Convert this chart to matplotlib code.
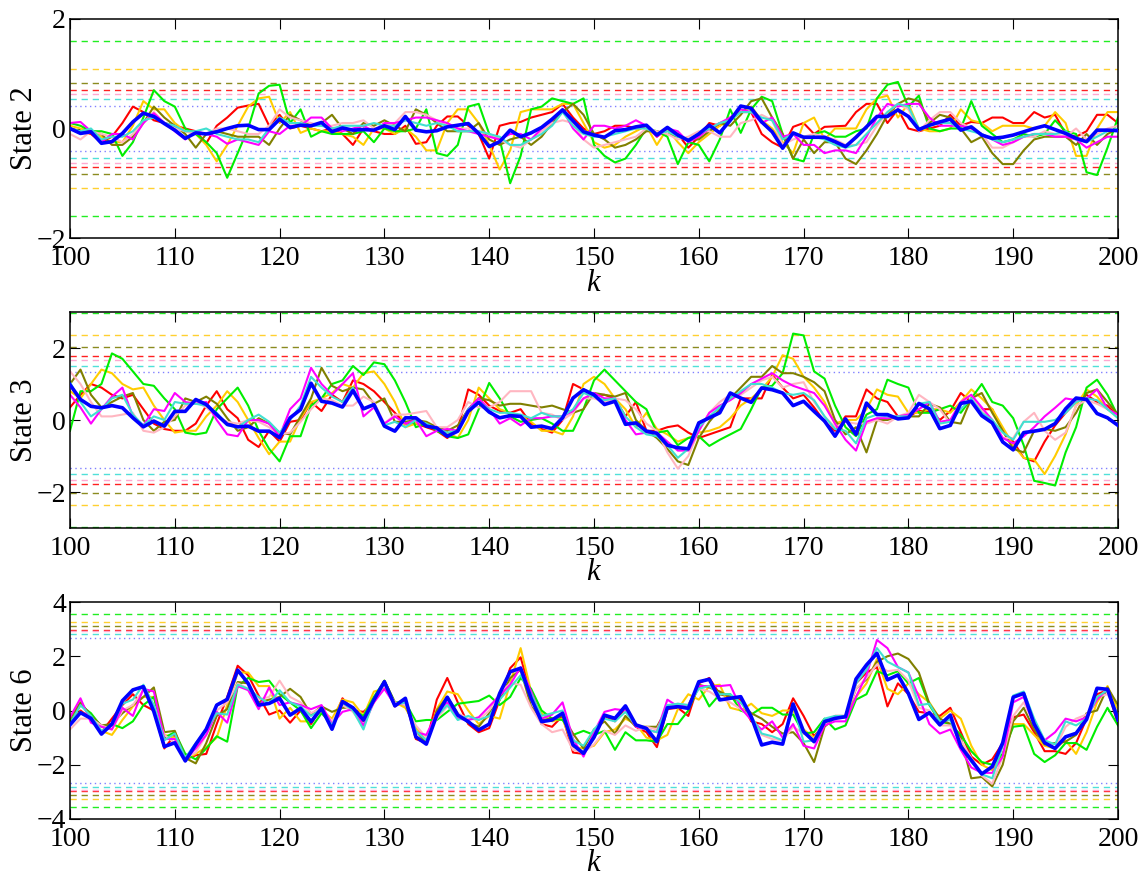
import numpy as np
import matplotlib
matplotlib.use("Agg")
import matplotlib.pyplot as plt

k = list(range(100, 201))

# ---------------- State 2 ----------------
s2_red = [0.0, -0.05, -0.1, -0.25, -0.15, 0.1, 0.4, 0.3, 0.15, 0.1,
          0.05, 0.0, -0.05, -0.27, 0.05, 0.2, 0.38, 0.42, 0.45, 0.05,
          0.25, 0.0, 0.05, 0.0, -0.05, 0.0, -0.1, -0.3, 0.0, -0.05,
          -0.1, -0.1, 0.05, -0.28, -0.25, 0.05, 0.22, 0.22, 0.05, -0.1,
          -0.55, 0.05, 0.1, 0.12, 0.2, 0.25, 0.3, 0.45, 0.2, 0.0,
          -0.1, -0.05, 0.05, 0.05, 0.0, 0.05, -0.15, 0.0, -0.1, -0.35,
          -0.15, 0.1, 0.05, 0.2, 0.3, 0.3, -0.1, -0.25, -0.35, 0.03,
          0.1, -0.1, 0.03, 0.04, 0.05, 0.3, 0.45, 0.45, 0.1, 0.35,
          0.0, -0.05, 0.0, 0.05, 0.25, 0.05, 0.12, 0.1, 0.2, 0.2,
          0.1, 0.1, 0.3, 0.2, 0.25, -0.1, -0.15, -0.05, 0.25, 0.25,
          0.1]
s2_yellow = [0.05, 0.0, -0.05, -0.15, -0.25, -0.25, 0.05, 0.5, 0.35, 0.35,
             0.1, -0.05, -0.1, -0.3, -0.6, -0.3, 0.05, 0.4, 0.55, 0.58,
             0.1, 0.3, -0.08, 0.0, -0.05, -0.05, -0.1, -0.15, -0.3, 0.0,
             0.0, -0.1, 0.0, -0.15, -0.4, -0.4, 0.1, 0.35, 0.35, 0.1,
             -0.3, -0.75, -0.4, 0.3, 0.35, 0.35, 0.35, 0.45, 0.45, 0.1,
             -0.25, -0.35, -0.3, -0.15, -0.05, 0.05, -0.3, 0.0, -0.25, -0.45,
             -0.25, -0.1, 0.05, 0.15, 0.3, 0.4, 0.15, 0.0, -0.25, -0.45,
             0.1, 0.2, -0.2, 0.0, 0.0, 0.0, 0.35, 0.55, 0.6, 0.2,
             0.45, 0.0, -0.05, -0.05, 0.0, 0.35, 0.15, 0.1, -0.05, 0.05,
             0.05, 0.05, 0.0, 0.05, 0.3, 0.1, -0.5, -0.5, 0.0, 0.3,
             0.3]
s2_green = [0.1, 0.05, -0.05, -0.05, -0.1, -0.5, -0.25, 0.2, 0.7, 0.5,
            0.4, 0.0, -0.1, -0.25, -0.45, -0.9, -0.45, 0.0, 0.64, 0.78,
            0.8, 0.1, 0.35, -0.15, -0.05, -0.1, -0.1, -0.1, -0.05, -0.25,
            0.0, -0.05, -0.05, 0.0, 0.35, -0.45, -0.5, -0.3, 0.4, 0.45,
            -0.1, -0.2, -1.0, -0.5, 0.35, 0.4, 0.55, 0.5, 0.45, 0.55,
            -0.3, -0.5, -0.62, -0.55, -0.3, 0.0, -0.05, -0.15, -0.65, -0.25,
            -0.3, -0.6, -0.2, 0.35, -0.08, 0.35, 0.58, 0.5, -0.1, -0.55,
            -0.6, -0.1, -0.05, -0.15, -0.15, -0.05, 0.0, 0.55, 0.8, 0.85,
            0.4, 0.6, 0.0, -0.05, 0.0, 0.0, 0.5, 0.05, -0.1, -0.25,
            -0.2, -0.1, -0.15, -0.1, 0.15, -0.05, -0.1, -0.8, -0.85, -0.35,
            0.2]
s2_olive = [0.0, -0.05, -0.05, -0.1, -0.3, -0.3, -0.15, 0.1, 0.4, 0.2,
            0.05, -0.1, -0.35, -0.1, -0.05, -0.1, -0.15, -0.15, -0.15, -0.3,
            0.0, 0.25, 0.15, 0.05, 0.1, 0.25, 0.0, -0.1, 0.1, 0.05,
            0.15, 0.05, -0.05, 0.35, 0.25, 0.1, -0.05, -0.05, -0.05, 0.1,
            -0.2, -0.3, -0.2, -0.15, -0.3, -0.15, 0.1, 0.3, 0.45, 0.25,
            -0.1, -0.2, -0.35, -0.3, -0.2, -0.05, -0.05, -0.1, -0.15, -0.2,
            -0.2, -0.05, 0.1, 0.05, 0.25, 0.5, 0.55, 0.2, -0.1, -0.55,
            -0.2, -0.45, -0.25, -0.25, -0.55, -0.65, -0.4, -0.1, 0.25, 0.45,
            0.55, 0.5, 0.1, 0.25, 0.2, 0.0, -0.25, -0.15, -0.45, -0.65,
            -0.65, -0.4, -0.2, -0.15, -0.15, -0.15, -0.3, -0.1, -0.3, -0.1,
            0.0]
s2_pink = [-0.1, -0.2, -0.05, -0.1, -0.15, -0.25, -0.1, 0.1, 0.3, 0.1,
           0.0, -0.05, -0.1, -0.1, 0.0, 0.0, -0.05, -0.1, -0.1, 0.05,
           0.35, 0.2, 0.15, 0.1, 0.05, 0.05, 0.1, 0.1, 0.15, 0.0,
           0.05, 0.1, 0.3, 0.3, 0.25, 0.15, 0.05, 0.0, 0.0, -0.05,
           -0.1, -0.2, -0.3, -0.35, -0.2, -0.05, 0.1, 0.15, 0.1, -0.2,
           -0.35, -0.3, -0.25, -0.2, -0.15, 0.0, -0.05, -0.1, -0.2, -0.15,
           -0.05, -0.05, -0.15, -0.15, 0.1, 0.15, 0.25, 0.15, -0.3, -0.2,
           -0.15, -0.1, -0.15, -0.2, -0.3, -0.3, -0.25, 0.05, 0.3, 0.45,
           0.35, -0.05, 0.15, 0.3, 0.3, 0.1, 0.0, -0.1, -0.35, -0.35,
           -0.25, -0.15, -0.15, -0.05, -0.1, -0.15, 0.0, -0.2, -0.1, 0.0,
           0.05]
s2_magenta = [0.1, 0.12, -0.05, -0.25, -0.1, -0.1, -0.2, 0.1, 0.28, 0.1,
              -0.05, -0.2, -0.05, -0.1, -0.15, -0.28, -0.2, -0.25, -0.3, -0.05,
              -0.1, 0.05, 0.05, 0.2, 0.2, 0.0, -0.05, 0.0, 0.05, -0.05,
              0.1, 0.1, 0.15, 0.2, 0.2, 0.15, 0.1, 0.0, -0.05, -0.1,
              -0.15, -0.2, -0.1, -0.1, -0.2, 0.0, 0.15, 0.35, 0.0, -0.2,
              0.05, 0.05, 0.0, 0.05, 0.15, 0.05, -0.15, 0.0, -0.05, -0.25,
              -0.15, 0.0, 0.1, 0.2, 0.35, 0.3, 0.1, 0.2, -0.15, -0.1,
              -0.3, -0.3, -0.45, -0.4, -0.4, -0.45, -0.15, 0.2, 0.45, 0.4,
              0.45, 0.45, 0.2, 0.05, 0.05, 0.05, 0.0, -0.1, -0.2, -0.3,
              -0.25, -0.15, -0.1, -0.1, -0.15, -0.15, -0.2, -0.35, -0.25, -0.15,
              -0.15]
s2_cyan = [0.0, -0.05, 0.0, -0.2, -0.15, -0.15, -0.05, 0.15, 0.2, 0.1,
           0.05, -0.05, -0.05, 0.0, -0.1, -0.15, -0.2, -0.2, -0.25, 0.0,
           0.2, 0.1, 0.1, 0.05, 0.05, 0.0, 0.05, 0.05, 0.05, 0.1,
           0.05, 0.05, 0.15, 0.1, 0.05, 0.1, 0.05, -0.05, -0.05, -0.05,
           -0.1, -0.15, -0.3, -0.3, -0.2, -0.1, 0.05, 0.3, 0.05, -0.1,
           -0.15, -0.15, -0.1, -0.05, 0.0, 0.0, -0.1, -0.05, -0.15, -0.2,
           -0.1, 0.0, 0.1, 0.15, 0.3, 0.3, 0.2, 0.15, -0.2, -0.1,
           -0.15, -0.15, -0.2, -0.3, -0.35, -0.3, -0.1, 0.1, 0.3, 0.45,
           0.4, 0.0, 0.05, 0.1, 0.1, 0.0, -0.05, -0.1, -0.2, -0.25,
           -0.2, -0.15, -0.1, -0.1, -0.1, -0.05, -0.2, -0.25, -0.15, -0.05,
           0.0]
s2_blue = [0.0, -0.09, -0.06, -0.27, -0.24, -0.09, 0.12, 0.28, 0.22, 0.09,
           -0.03, -0.18, -0.08, -0.10, -0.06, 0.0, 0.05, 0.06, -0.02, -0.02,
           0.17, 0.02, 0.06, 0.05, 0.11, -0.06, 0.01, -0.03, -0.02, -0.03,
           0.05, -0.02, 0.22, -0.03, -0.06, -0.04, 0.03, 0.06, 0.09, -0.09,
           -0.33, -0.24, -0.03, -0.15, -0.08, 0.02, 0.17, 0.34, 0.14, -0.06,
           -0.12, -0.16, -0.04, -0.02, 0.03, 0.06, -0.12, 0.02, -0.12, -0.22,
           -0.10, 0.06, -0.08, 0.15, 0.41, 0.37, 0.12, -0.06, -0.36, -0.08,
           -0.16, -0.16, -0.16, -0.24, -0.33, -0.16, 0.03, 0.22, 0.22, 0.34,
           0.22, -0.02, 0.06, 0.12, 0.17, -0.03, 0.03, -0.12, -0.18, -0.16,
           -0.12, -0.06, 0.0, 0.05, -0.02, -0.09, -0.18, -0.24, -0.03, -0.03,
           -0.04]
s2_bounds = [1.60, 1.08, 0.84, 0.70, 0.63, 0.53, 0.42]

# ---------------- State 3 ----------------
s3_red = [0.35, 0.7, 1.0, 0.9, 0.7, 0.6, 0.7, 0.3, -0.1, -0.25,
          -0.3, -0.3, -0.1, 0.4, 0.8, 0.3, 0.05, -0.55, -0.75, -0.3,
          -0.6, -0.05, 0.0, 0.5, 0.25, 0.7, 0.5, 1.1, 1.0, 0.8,
          0.5, 0.2, -0.1, -0.1, -0.2, -0.3, -0.5, -0.25, 0.85, 0.7,
          0.4, 0.25, 0.2, 0.3, -0.1, -0.25, -0.35, 0.0, 1.0, 0.85,
          0.7, 0.7, 0.6, 0.1, 0.5, -0.3, -0.3, -0.2, -0.15, -0.35,
          -0.5, -0.4, -0.3, -0.2, 0.6, 0.6, 0.6, 1.25, 0.9, 0.6,
          0.7, 0.35, -0.05, -0.3, 0.1, 0.1, 0.85, 0.6, 0.5, 0.1,
          0.1, 0.25, 0.25, 0.0, 0.25, 0.75, 0.5, 0.3, 0.3, -0.3,
          -0.6, -1.05, -1.15, -0.6, -0.15, 0.2, 0.5, 0.7, 0.5, 0.4,
          0.1]
s3_yellow = [0.8, 0.6, 1.0, 1.4, 1.3, 1.0, 0.85, 0.9, 0.4, 0.0,
             -0.35, -0.3, -0.3, 0.1, 0.4, 0.8, 0.5, 0.0, -0.5, -0.95,
             -0.6, -0.6, 0.05, 0.5, 0.6, 0.75, 1.0, 0.9, 1.3, 1.35,
             1.0, 0.5, -0.2, -0.1, -0.15, -0.25, -0.35, -0.5, 0.0, 0.9,
             0.6, 0.3, 0.2, 0.1, -0.05, -0.3, -0.3, -0.4, 0.1, 1.0,
             1.2, 1.0, 0.6, 0.3, -0.2, 0.2, -0.25, -0.4, -0.6, -0.5,
             -0.35, -0.3, -0.2, 0.05, 0.4, 0.6, 0.85, 1.2, 1.8, 1.7,
             1.2, 0.9, 0.5, -0.1, 0.0, 0.0, 0.3, 0.85, 0.7, 0.65,
             0.2, 0.2, 0.3, 0.3, 0.2, 0.5, 0.85, 0.6, 0.3, -0.2,
             -0.7, -1.05, -1.1, -1.5, -1.0, -0.4, 0.4, 0.85, 0.65, 0.3,
             0.1]
s3_green = [-0.3, 0.8, 0.8, 1.0, 1.85, 1.7, 1.35, 1.0, 0.95, 0.6,
            0.3, -0.35, -0.4, -0.35, 0.3, 0.6, 0.9, 0.4, -0.3, -0.8,
            -1.15, -0.45, -0.45, 0.4, 0.6, 1.0, 1.1, 1.5, 1.25, 1.6,
            1.55, 1.1, 0.5, -0.2, -0.1, -0.3, -0.45, -0.5, -0.4, 0.3,
            1.03, 0.6, 0.1, -0.05, 0.0, 0.05, -0.1, -0.3, -0.3, 0.3,
            1.1, 1.4, 1.1, 0.8, 0.5, 0.3, -0.35, -0.3, -0.7, -0.5,
            -0.45, -0.72, -0.55, -0.4, -0.25, 0.3, 0.9, 0.95, 1.3, 2.4,
            2.35, 1.35, 1.15, 0.4, -0.2, -0.45, 0.15, 0.3, 1.12, 1.0,
            0.9, 0.2, 0.2, 0.3, 0.4, 0.2, 0.6, 1.0, 0.5, 0.4,
            0.05, -0.7, -1.69, -1.75, -1.82, -0.9, -0.2, 0.9, 1.12, 0.7,
            0.1]
s3_olive = [1.0, 1.4, 0.7, 0.35, 0.5, 0.65, 0.75, 0.0, -0.3, -0.05,
            0.0, 0.6, 0.5, 0.65, 0.45, 0.05, -0.3, -0.2, 0.05, -0.1,
            -0.35, -0.4, 0.1, 0.6, 1.45, 0.95, 0.8, 0.9, 0.85, 0.45,
            0.6, -0.05, -0.05, 0.0, -0.05, -0.2, -0.3, -0.15, 0.3, 0.61,
            0.55, 0.4, 0.45, 0.45, 0.4, 0.35, 0.4, 0.3, 0.2, 0.3,
            0.75, 0.7, 0.65, 0.75, 0.0, -0.3, -0.5, -0.8, -1.15, -1.25,
            -0.5, -0.05, 0.3, 0.6, 0.9, 1.2, 1.2, 1.5, 1.3, 1.3,
            1.2, 1.05, 0.8, 0.0, -0.4, -0.2, -0.9, 0.0, 0.0, 0.1,
            0.1, 0.1, 0.45, 0.35, -0.05, -0.1, 0.6, 0.75, 0.2, -0.3,
            -0.8, -0.9, -0.3, -0.25, -0.3, -0.2, 0.2, 0.75, 0.85, 0.5,
            0.15]
s3_pink = [1.35, 1.0, 0.5, 0.1, 0.1, 0.15, 0.2, -0.3, -0.35, -0.2,
           0.1, 0.4, 0.5, 0.35, 0.1, -0.05, -0.1, 0.0, -0.05, -0.2,
           -0.4, -0.35, -0.05, 0.3, 0.6, 0.55, 0.4, 0.4, 0.65, 0.5,
           -0.1, 0.15, 0.15, 0.2, 0.25, -0.2, -0.2, 0.0, 0.5, 0.35,
           0.35, 0.5, 0.8, 0.8, 0.8, 0.2, 0.15, 0.0, 0.2, 0.6,
           0.6, 0.5, 0.6, 0.55, 0.3, -0.1, -0.3, -0.9, -1.35, -1.0,
           -0.3, 0.2, 0.5, 0.7, 0.7, 0.9, 1.1, 1.2, 0.9, 1.0,
           1.05, 0.5, 0.1, -0.2, -0.05, -0.1, -0.1, 0.0, -0.1, 0.1,
           0.2, 0.7, 0.5, 0.3, -0.1, 0.5, 0.7, 0.25, 0.0, -0.5,
           -0.5, -0.05, 0.2, -0.3, -0.55, -0.35, 0.4, 0.55, 0.45, 0.3,
           0.1]
s3_magenta = [0.7, 0.35, -0.1, 0.3, 0.65, 0.9, 0.1, -0.15, 0.3, 0.25,
              0.75, 0.5, 0.45, 0.5, 0.0, -0.4, -0.45, 0.0, 0.0, -0.1,
              -0.45, 0.3, 0.6, 1.45, 1.0, 0.7, 1.0, 1.3, 0.1, 0.35,
              -0.1, 0.1, -0.1, 0.0, -0.45, -0.3, -0.25, -0.3, 0.3, 0.6,
              0.3, -0.1, 0.05, -0.15, 0.05, 0.05, 0.1, 0.1, 0.25, 0.6,
              0.75, 0.6, 0.6, 0.0, -0.4, -0.35, -0.35, -0.6, -0.85, -0.85,
              -0.3, 0.2, 0.4, 0.55, 0.75, 1.0, 1.15, 1.3, 1.1, 0.95,
              0.85, 0.75, 0.4, -0.1, -0.55, -0.85, -0.05, 0.05, 0.05, 0.1,
              0.15, 0.3, 0.5, -0.05, 0.0, 0.5, 0.7, 0.35, 0.0, -0.5,
              -0.65, -0.45, -0.2, 0.1, 0.34, 0.6, 0.55, 0.6, 0.85, 0.3,
              0.15]
s3_cyan = [1.05, 0.5, 0.1, 0.3, 0.6, 0.7, 0.15, -0.15, 0.1, 0.0,
           0.5, 0.45, 0.45, 0.4, 0.2, -0.15, -0.2, 0.0, 0.15, -0.05,
           -0.35, 0.0, 0.4, 1.2, 0.9, 0.65, 0.5, 0.9, 0.3, 0.4,
           -0.15, -0.05, -0.2, 0.0, -0.1, -0.25, -0.35, -0.3, 0.3, 0.5,
           0.3, 0.2, 0.2, 0.15, 0.05, 0.2, 0.1, 0.1, 0.3, 0.75,
           0.65, 0.55, 0.6, 0.1, -0.2, -0.4, -0.45, -0.7, -1.05, -0.8,
           -0.2, 0.1, 0.35, 0.6, 0.8, 1.0, 1.0, 0.9, 0.75, 0.7,
           0.75, 0.55, 0.1, -0.25, -0.3, -0.65, 0.05, 0.15, 0.1, 0.1,
           0.1, 0.45, 0.5, -0.1, -0.05, 0.3, 0.6, 0.2, 0.0, -0.35,
           -0.55, -0.05, -0.05, -0.05, 0.0, 0.2, 0.5, 0.6, 0.55, 0.3,
           0.05]
s3_blue = [0.98, 0.57, 0.38, 0.34, 0.4, 0.34, 0.06, -0.19, -0.03, -0.17,
           0.24, 0.24, 0.57, 0.43, 0.15, -0.12, -0.19, -0.17, -0.31, -0.31,
           -0.49, 0.06, 0.29, 1.02, 0.52, 0.47, 0.36, 0.82, 0.31, 0.43,
           -0.17, -0.31, 0.06, 0.06, -0.17, -0.22, -0.45, -0.31, 0.24, 0.49,
           0.22, 0.06, 0.12, 0.1, -0.2, -0.17, -0.24, 0.06, 0.61, 0.84,
           0.7, 0.43, 0.52, -0.12, -0.08, -0.31, -0.37, -0.7, -0.77, -0.8,
           -0.08, 0.06, 0.2, 0.75, 0.61, 0.49, 0.89, 0.84, 0.75, 0.4,
           0.52, 0.24, -0.03, -0.45, 0.03, -0.4, 0.47, 0.15, 0.15, 0.03,
           0.06, 0.46, 0.31, -0.24, -0.15, 0.46, 0.52, 0.12, -0.08, -0.61,
           -0.83, -0.35, -0.31, -0.26, -0.1, 0.31, 0.61, 0.57, 0.18, 0.06,
           -0.15]
s3_bounds = [2.98, 2.36, 2.04, 1.79, 1.67, 1.50, 1.32]

# ---------------- State 6 ----------------
s6_red = [-0.5, 0.0, -0.3, -0.8, -0.3, 0.2, 0.6, 0.2, 0.0, -1.4,
          -0.9, -1.8, -1.65, -1.6, -0.5, 0.5, 1.65, 1.3, 0.55, -0.15,
          0.0, -0.45, 0.0, -0.5, 0.1, -0.5, 0.45, 0.0, -0.05, 0.3,
          1.0, 0.15, 0.4, -1.05, -1.2, 0.4, 1.2, 0.3, -0.5, -0.8,
          -0.65, 0.4, 1.56, 1.96, 0.6, -0.5, -0.6, -0.2, -1.55, -1.6,
          -1.0, -0.2, -0.4, 0.1, -0.6, -0.8, -1.35, 0.05, 0.1, -0.2,
          1.0, 1.2, 0.6, 0.5, 0.4, -0.4, -0.5, -0.8, -0.5, 0.45,
          -0.2, -0.95, -0.5, -0.2, -0.2, 1.0, 1.4, 1.6, 0.15, 1.0,
          0.6, -0.05, -0.1, -0.2, 0.1, -0.8, -1.7, -2.0, -1.8, -1.2,
          -0.25, -0.15, -0.8, -1.5, -1.5, -1.6, -1.2, -0.3, 0.6, 0.75,
          -0.5]
s6_yellow = [-0.4, -0.05, -0.3, -0.75, -0.9, -0.35, 0.15, 0.5, 0.5, -0.9,
             -1.0, -1.8, -1.6, -1.35, -1.0, 0.2, 1.4, 1.4, 0.9, 0.9,
             -0.3, 0.1, -0.4, -0.4, 0.0, -0.3, 0.4, 0.3, -0.2, 0.7,
             0.8, 0.3, 0.1, -0.6, -1.15, 0.05, 0.7, 0.6, 0.0, -0.5,
             -0.2, -0.3, 1.0, 2.3, 0.7, -0.1, -0.4, -0.3, -1.35, -1.4,
             -1.3, -0.8, -0.7, -0.3, -0.5, -1.0, -1.1, -0.9, 0.05, 0.6,
             0.4, 0.9, 0.95, 0.1, 0.0, 0.25, -0.1, -0.2, 0.0, 0.0,
             -0.7, -1.0, -0.5, -0.25, -0.2, 0.5, 1.0, 1.9, 0.8, 0.6,
             1.0, 0.6, 0.3, -0.3, 0.0, -0.3, -1.3, -2.0, -2.2, -1.6,
             -0.5, -0.5, -0.9, -1.3, -1.4, -1.1, -1.6, -0.8, 0.3, 0.9,
             0.0]
s6_green = [-0.45, 0.2, -0.1, -0.6, -0.5, -0.65, -0.4, 0.2, 0.5, -1.0,
            -0.8, -1.6, -1.8, -1.4, -0.95, -1.15, 0.9, 1.2, 1.05, 1.1,
            0.6, 0.3, 0.0, -0.65, -0.1, -0.5, 0.2, 0.0, -0.2, 0.5,
            1.1, 0.3, 0.3, -0.4, -0.35, -0.35, -0.05, 0.25, 0.3, 0.35,
            0.55, 0.2, 0.5, 1.2, 0.8, 0.0, -0.3, -0.35, -0.9, -0.75,
            -0.9, -0.75, -1.45, -0.8, -1.1, -1.1, -1.15, -0.5, -0.5, 0.0,
            0.9, 0.15, 0.6, 0.6, 0.0, -0.15, 0.1, 0.1, -0.15, -0.15,
            -0.85, -0.8, -0.3, -0.7, -0.55, 0.4, 0.6, 1.45, 1.3, 1.45,
            1.0, 1.2, 0.2, -0.4, -0.5, -0.9, -1.5, -1.9, -2.0, -1.6,
            -0.6, -0.55, -1.6, -1.9, -1.65, -1.2, -1.2, -1.45, -0.6, 0.1,
            -0.55]
s6_olive = [-0.3, 0.3, -0.2, -0.55, -0.5, -0.1, 0.2, 0.5, 0.85, -0.8,
            -0.75, -1.75, -1.95, -1.2, -0.2, 0.05, 1.05, 1.0, 0.3, 0.4,
            0.5, 0.8, 0.5, -0.15, 0.15, -0.05, 0.1, 0.1, -0.4, 0.4,
            1.1, 0.3, 0.2, -0.75, -1.2, 0.0, 0.5, -0.1, -0.45, -0.6,
            -0.1, 0.4, 1.2, 1.5, 0.15, -0.35, -0.3, -0.2, -0.85, -1.4,
            -0.7, -0.4, -0.85, -0.2, -0.6, -0.6, -0.6, 0.1, 0.15, 0.2,
            0.95, 0.85, 0.7, 0.5, 0.3, -0.1, -0.3, -0.6, -0.85, -0.8,
            -1.2, -1.9, -0.6, -0.25, -0.25, 0.8, 1.15, 1.8, 2.0, 2.1,
            1.9, 1.4, 0.25, -0.3, -0.5, -1.0, -2.5, -2.45, -2.8, -2.0,
            -0.4, 0.1, -0.7, -1.25, -1.2, -1.15, -0.9, -0.1, 0.0, 0.85,
            0.2]
s6_pink = [-0.7, -0.3, -0.3, -0.55, -0.7, 0.0, 0.2, 0.75, 0.2, -0.9,
           -1.2, -1.75, -1.55, -0.9, 0.0, 0.3, 1.0, 0.8, 0.4, 0.5,
           1.1, 0.5, 0.3, -0.1, 0.1, -0.4, 0.2, -0.05, -0.6, 0.4,
           0.9, 0.3, 0.2, -0.55, -1.0, -0.3, 0.15, -0.1, -0.3, -0.35,
           0.0, 0.65, 1.0, 0.95, 0.1, -0.5, -0.8, -0.7, -1.45, -1.55,
           -1.25, -0.75, -0.9, -0.55, -0.75, -0.6, -0.7, 0.15, 0.25, 0.2,
           0.8, 0.7, 0.45, 0.3, 0.05, -0.25, -0.9, -1.05, -1.1, -0.6,
           -0.85, -1.05, -0.5, -0.25, -0.2, 0.8, 1.2, 1.7, 1.45, 1.5,
           1.1, 0.1, 0.0, -0.55, -0.55, -1.1, -1.75, -2.4, -2.7, -1.7,
           -0.2, 0.3, -0.5, -1.1, -1.4, -0.6, -0.3, -0.15, 0.5, 0.6,
           -0.1]
s6_magenta = [-0.25, 0.45, -0.45, -0.6, -0.7, 0.1, -0.2, 0.8, 0.7, -1.05,
              -1.05, -1.8, -1.4, -0.9, -0.05, -0.45, 0.9, 0.75, 0.05, 0.85,
              0.2, 0.3, 0.2, 0.05, 0.2, -0.5, -0.05, 0.05, -0.55, 0.3,
              0.8, 0.2, 0.3, -0.8, -0.9, -0.1, 0.3, -0.3, -0.35, -0.25,
              0.15, 0.55, 0.95, 1.6, 0.7, -0.3, -0.15, 0.3, -1.05, -1.7,
              -0.8, -0.05, 0.05, 0.0, -0.6, -0.7, -0.8, 0.4, 0.15, 0.2,
              0.9, 0.9, 0.9, 0.94, 0.1, -0.35, -0.7, -0.4, -1.0, -0.5,
              -1.3, -1.4, -0.55, -0.4, -0.4, 0.5, 1.3, 2.6, 2.3, 1.6,
              1.4, 0.5, -0.5, -0.85, -0.7, -1.45, -2.1, -2.3, -2.3, -1.7,
              0.3, 0.5, -0.55, -1.1, -0.8, -0.3, -0.4, -0.25, 0.4, 0.8,
              -0.3]
s6_cyan = [-0.5, 0.2, -0.2, -0.75, -0.55, 0.25, 0.4, 0.95, 0.2, -1.1,
           -0.85, -1.75, -1.2, -0.7, -0.1, -0.15, 0.95, 0.8, 0.5, 0.25,
           0.75, 0.3, 0.15, -0.2, 0.05, -0.55, 0.3, 0.0, -0.7, 0.4,
           1.0, 0.2, 0.3, -0.75, -1.1, -0.2, 0.2, -0.35, -0.2, -0.35,
           -0.2, 0.4, 0.85, 1.3, 0.6, -0.2, -0.1, 0.0, -1.1, -1.3,
           -0.7, -0.3, -0.4, -0.05, -0.55, -0.7, -0.8, 0.2, 0.25, 0.2,
           0.8, 0.9, 0.6, 0.6, 0.3, -0.2, -0.85, -0.95, -1.1, 0.2,
           -1.15, -1.1, -0.3, -0.2, -0.2, 1.0, 1.5, 2.3, 1.8, 1.6,
           1.4, 0.2, 0.25, -0.4, -0.35, -1.3, -1.9, -2.35, -2.5, -1.3,
           0.55, 0.7, -0.3, -1.1, -1.25, -0.4, -0.55, -0.3, 0.5, 0.75,
           -0.2]
s6_blue = [-0.53, -0.08, -0.29, -0.87, -0.5, 0.36, 0.76, 0.88, -0.04, -1.33,
           -1.19, -1.86, -1.25, -0.69, 0.2, 0.41, 1.49, 1.0, 0.2, 0.26,
           0.45, -0.17, 0.08, -0.41, 0.08, -0.69, 0.33, 0.1, -0.35, 0.39,
           1.06, 0.17, 0.45, -0.97, -1.24, -0.17, 0.49, -0.17, -0.41, -0.72,
           -0.5, 0.63, 1.43, 1.56, 0.45, -0.41, -0.35, -0.1, -1.27, -1.58,
           -0.99, -0.17, -0.29, 0.17, -0.53, -0.66, -1.15, 0.1, 0.14, 0.08,
           1.06, 1.15, 0.39, 0.45, 0.51, -0.23, -1.27, -1.17, -1.24, 0.24,
           -0.78, -1.15, -0.41, -0.29, -0.23, 1.16, 1.68, 2.11, 1.13, 1.31,
           0.63, -0.33, -0.08, -0.53, -0.17, -1.33, -1.83, -2.34, -2.07, -1.19,
           0.49, 0.63, -0.5, -1.19, -1.4, -0.97, -0.84, -0.33, 0.82, 0.78,
           -0.35]
s6_bounds = [3.57, 3.26, 3.13, 2.98, 2.93, 2.82, 2.69]

state_labels = ["State 2", "State 3", "State 6"]
ylims = [(-2, 2), (-3, 3), (-4, 4)]
yticks_list = [[-2, 0, 2], [-2, 0, 2], [-4, -2, 0, 2, 4]]
xticks = [100, 110, 120, 130, 140, 150, 160, 170, 180, 190, 200]

series_colors = ["#FF0000", "#FFCC00", "#00EE00", "#808000",
                 "#FFB6C1", "#FF00FF", "#40E0D0"]
bound_colors = ["#22EE22", "#FFD030", "#8B8B20", "#FF2020",
                "#FFA8D0", "#50E0D8", "#8080FF"]

panels = [
    ([s2_red, s2_yellow, s2_green, s2_olive, s2_pink, s2_magenta, s2_cyan], s2_blue, s2_bounds),
    ([s3_red, s3_yellow, s3_green, s3_olive, s3_pink, s3_magenta, s3_cyan], s3_blue, s3_bounds),
    ([s6_red, s6_yellow, s6_green, s6_olive, s6_pink, s6_magenta, s6_cyan], s6_blue, s6_bounds),
]

plt.rcParams['font.family'] = ['Liberation Serif', 'DejaVu Serif']
plt.rcParams['mathtext.fontset'] = 'custom'
plt.rcParams['mathtext.it'] = 'Liberation Serif:italic'
plt.rcParams['mathtext.rm'] = 'Liberation Serif'

fig = plt.figure(figsize=(11.44, 8.76), dpi=100)
W, H = 1144.0, 876.0
boxes = [(70, 19, 1118, 238), (70, 312, 1118, 528), (70, 602, 1118, 819)]

for i, ((others, blue, bounds), box) in enumerate(zip(panels, boxes)):
    x0, y0, x1, y1 = box
    ax = fig.add_axes([x0 / W, 1 - y1 / H, (x1 - x0) / W, (y1 - y0) / H])
    # threshold lines
    for j, (b, c) in enumerate(zip(bounds, bound_colors)):
        ls = (0, (1, 2.5)) if j == len(bounds) - 1 else (0, (4.5, 3.5))
        for sgn in (1, -1):
            ax.axhline(sgn * b, color=c, lw=1.0, ls=ls, zorder=1)
    for s, c in zip(others, series_colors):
        ax.plot(k, s, color=c, lw=1.5, zorder=2)
    ax.plot(k, blue, color="#0000FF", lw=2.6, zorder=3)
    ax.set_xlim(100, 200)
    ax.set_ylim(*ylims[i])
    ax.set_xticks(xticks)
    ax.set_yticks(yticks_list[i])
    ax.set_yticklabels([str(t).replace('-', '\u2212') for t in yticks_list[i]])
    ax.tick_params(direction='in', top=True, right=True, length=7, width=0.8,
                   labelsize=20, pad=6)
    ax.tick_params(axis='y', pad=3)
    for sp in ax.spines.values():
        sp.set_linewidth(1.1)
    ax.set_ylabel(state_labels[i], fontsize=22)
    ax.yaxis.set_label_coords(-0.03, 0.5)
    ax.set_xlabel('$k$', fontsize=22)
    ax.xaxis.set_label_coords(0.5, -0.14)

fig.savefig("out.png", dpi=100)
